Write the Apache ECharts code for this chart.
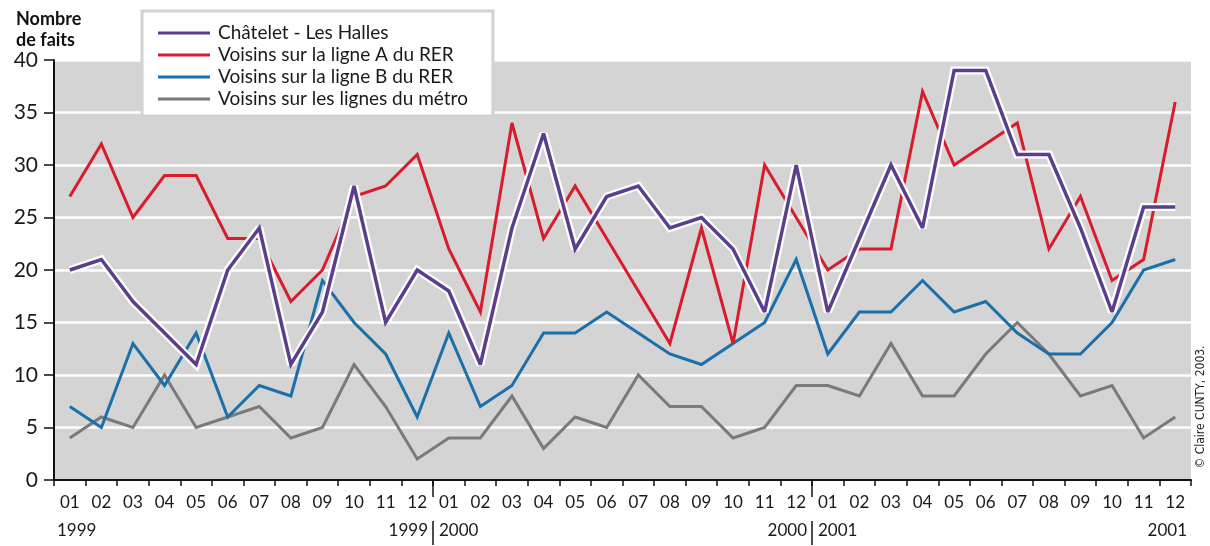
<!DOCTYPE html>
<html>
<head>
<meta charset="utf-8">
<script src="https://cdn.jsdelivr.net/npm/echarts@6/dist/echarts.min.js"></script>
<style>
  html, body { margin: 0; padding: 0; background: #ffffff; }
  #chart { width: 1210px; height: 546px; }
</style>
</head>
<body>
<div id="chart"></div>
<script>
// Monthly counts, January 1999 to December 2001
const years = ['1999', '2000', '2001'];
const monthLabels = ['01', '02', '03', '04', '05', '06', '07', '08', '09', '10', '11', '12'];
const categories = years.flatMap(y => monthLabels.map(m => y + '-' + m));

const seriesNames = [
  'Châtelet - Les Halles',
  'Voisins sur la ligne A du RER',
  'Voisins sur la ligne B du RER',
  'Voisins sur les lignes du métro'
];

const chatelet = [20, 21, 17, 14, 11, 20, 24, 11, 16, 28, 15, 20,
                  18, 11, 24, 33, 22, 27, 28, 24, 25, 22, 16, 30,
                  16, 23, 30, 24, 39, 39, 31, 31, 24, 16, 26, 26];
const ligneA   = [27, 32, 25, 29, 29, 23, 23, 17, 20, 27, 28, 31,
                  22, 16, 34, 23, 28, 23, 18, 13, 24, 13, 30, 25,
                  20, 22, 22, 37, 30, 32, 34, 22, 27, 19, 21, 36];
const ligneB   = [7, 5, 13, 9, 14, 6, 9, 8, 19, 15, 12, 6,
                  14, 7, 9, 14, 14, 16, 14, 12, 11, 13, 15, 21,
                  12, 16, 16, 19, 16, 17, 14, 12, 12, 15, 20, 21];
const metro    = [4, 6, 5, 10, 5, 6, 7, 4, 5, 11, 7, 2,
                  4, 4, 8, 3, 6, 5, 10, 7, 7, 4, 5, 9,
                  9, 8, 13, 8, 8, 12, 15, 12, 8, 9, 4, 6];

const yTicks = { min: 0, max: 40, interval: 5 };

const FONT = 'Lato, "Open Sans", sans-serif';
const COLORS = { purple: '#5b3f8c', red: '#d81c2e', blue: '#1b70aa', gray: '#7a7a7a' };

const chart = echarts.init(document.getElementById('chart'), null, { renderer: 'canvas' });

function lineSeries(name, data, color, width, z, miter) {
  return {
    name: name,
    type: 'line',
    data: data,
    color: color,
    showSymbol: false,
    symbol: 'none',
    smooth: false,
    z: z,
    lineStyle: { color: color, width: width, join: 'miter', miterLimit: miter, cap: 'butt' },
    emphasis: { disabled: true },
    animation: false
  };
}

const option = {
  animation: false,
  backgroundColor: '#ffffff',
  title: {
    text: 'Nombre\nde faits',
    left: 11,
    top: 4,
    textStyle: { fontFamily: FONT, fontWeight: 'bold', fontSize: 18, lineHeight: 21, color: '#111' }
  },
  legend: {
    data: seriesNames,
    orient: 'vertical',
    left: 142,
    top: 11,
    backgroundColor: '#ffffff',
    borderColor: '#d2d2d2',
    borderWidth: 3,
    borderRadius: 0,
    padding: [11, 25, 6, 16],
    itemWidth: 52,
    itemHeight: 3,
    itemGap: 0,
    icon: 'rect',
    selectedMode: false,
    textStyle: { fontFamily: FONT, fontSize: 19, lineHeight: 22, color: '#1a1a1a', padding: [0, 0, 0, 3] },
    z: 10
  },
  grid: {
    left: 54, right: 19, top: 60, bottom: 66,
    show: true, backgroundColor: '#d4d4d4', borderWidth: 0
  },
  xAxis: {
    type: 'category',
    data: categories,
    boundaryGap: true,
    axisLine: { show: true, onZero: false, lineStyle: { color: '#111', width: 2 } },
    axisTick: { show: true, alignWithLabel: false, interval: 0, length: 6, lineStyle: { color: '#111', width: 1.5 } },
    axisLabel: {
      interval: 0, margin: 14,
      fontFamily: FONT, fontSize: 17, color: '#1a1a1a',
      formatter: v => v.split('-')[1]
    },
    splitLine: { show: false }
  },
  yAxis: {
    type: 'value',
    min: yTicks.min, max: yTicks.max, interval: yTicks.interval,
    axisLine: { show: true, lineStyle: { color: '#111', width: 2 } },
    axisTick: { show: true, length: 10, lineStyle: { color: '#111', width: 1.5 } },
    axisLabel: { margin: 16, fontFamily: FONT, fontSize: 21, color: '#1a1a1a' },
    splitLine: { show: true, lineStyle: { color: '#ffffff', width: 2.5 } }
  },
  series: [
    lineSeries(seriesNames[3], metro, COLORS.gray, 3, 2, 4),
    lineSeries(seriesNames[2], ligneB, COLORS.blue, 3, 3, 4),
    lineSeries(seriesNames[1], ligneA, COLORS.red, 3, 4, 4),
    // white outline under the Châtelet line
    Object.assign(lineSeries('contour', chatelet, '#ffffff', 8, 5, 2.2), { silent: true }),
    lineSeries(seriesNames[0], chatelet, COLORS.purple, 3.5, 6, 3)
  ]
};

chart.setOption(option);

// Year labels and year separators, placed from the category axis
function buildYearGraphics() {
  const px = i => chart.convertToPixel({ xAxisIndex: 0 }, categories[i]);
  const step = px(1) - px(0);
  const axisY = chart.convertToPixel({ yAxisIndex: 0 }, 0);
  const elements = [];
  const yearTextY = axisY + 51;
  const textStyle = (text, x, align) => ({
    type: 'text', silent: true,
    style: { text: text, x: x, y: yearTextY, textAlign: align, textVerticalAlign: 'middle',
             font: '17px ' + FONT, fill: '#1a1a1a' }
  });

  elements.push(textStyle(years[0], px(0) - step / 2 + 3, 'left'));
  for (let k = 1; k < years.length; k++) {
    const bx = (px(12 * k - 1) + px(12 * k)) / 2;
    elements.push({ type: 'line', silent: true,
      shape: { x1: bx, y1: axisY, x2: bx, y2: axisY + 17 },
      style: { stroke: '#111', lineWidth: 1.5 } });
    elements.push({ type: 'line', silent: true,
      shape: { x1: bx, y1: axisY + 41, x2: bx, y2: axisY + 65 },
      style: { stroke: '#111', lineWidth: 1.5 } });
    elements.push(textStyle(years[k - 1], bx - 5, 'right'));
    elements.push(textStyle(years[k], bx + 6, 'left'));
  }
  const last = categories.length - 1;
  elements.push(textStyle(years[years.length - 1], px(last) + step / 2 - 4, 'right'));

  // credit line along the right edge
  elements.push({
    type: 'text', silent: true,
    x: 1201, y: 407, rotation: Math.PI / 2,
    style: { text: '© Claire CUNTY, 2003.', textAlign: 'center', textVerticalAlign: 'middle',
             font: '12px "Liberation Sans Narrow", "DejaVu Sans Condensed", sans-serif', fill: '#222' }
  });

  chart.setOption({ graphic: { elements: elements } });
}
buildYearGraphics();
</script>
</body>
</html>
